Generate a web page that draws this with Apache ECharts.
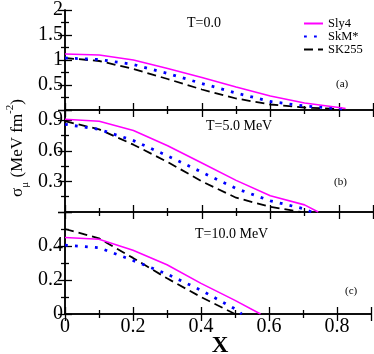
<!DOCTYPE html>
<html><head><meta charset="utf-8">
<script src="https://cdn.jsdelivr.net/npm/echarts@6/dist/echarts.min.js"></script>
<style>html,body{margin:0;padding:0;background:#fff}#c{width:374px;height:354px}</style>
</head><body><div id="c"></div>
<script>
// ---- data (x, sigma) ----
const seriesNames = ['Sly4', 'SkM*', 'SK255'];
const panelLabels = ['T=0.0', 'T=5.0 MeV', 'T=10.0 MeV'];
const panelTags = ['(a)', '(b)', '(c)'];
const xTickLabels = ['0', '0.2', '0.4', '0.6', '0.8'];

const sly4_T0 = [[0,1.12],[0.1,1.10],[0.2,1.00],[0.3,0.83],[0.4,0.65],[0.5,0.46],[0.6,0.28],[0.7,0.14],[0.8,0.05],[0.82,0.03]];
const skm_T0  = [[0,1.04],[0.1,1.01],[0.2,0.91],[0.3,0.73],[0.4,0.53],[0.5,0.34],[0.6,0.17],[0.7,0.08],[0.8,0.03],[0.82,0.02]];
const sk255_T0= [[0,1.04],[0.1,0.98],[0.2,0.82],[0.3,0.62],[0.4,0.41],[0.5,0.23],[0.6,0.11],[0.7,0.05],[0.8,0.02]];

const sly4_T5 = [[0,0.91],[0.1,0.89],[0.2,0.80],[0.3,0.65],[0.4,0.48],[0.5,0.31],[0.6,0.16],[0.7,0.07],[0.74,0.0]];
const skm_T5  = [[0,0.86],[0.1,0.81],[0.2,0.70],[0.3,0.55],[0.4,0.39],[0.5,0.23],[0.6,0.11],[0.7,0.03],[0.72,0.0]];
const sk255_T5= [[0,0.89],[0.1,0.81],[0.2,0.66],[0.3,0.49],[0.4,0.30],[0.5,0.14],[0.6,0.05],[0.69,0.0]];

const sly4_T10 = [[0,0.45],[0.1,0.44],[0.2,0.375],[0.3,0.29],[0.4,0.18],[0.5,0.08],[0.575,0.0]];
const skm_T10  = [[0,0.405],[0.1,0.39],[0.2,0.315],[0.3,0.235],[0.4,0.14],[0.5,0.03],[0.52,0.0]];
const sk255_T10= [[0,0.50],[0.1,0.445],[0.2,0.33],[0.3,0.21],[0.4,0.10],[0.5,0.0]];

const panelData = [[sly4_T0, skm_T0, sk255_T0],[sly4_T5, skm_T5, sk255_T5],[sly4_T10, skm_T10, sk255_T10]];
const yRanges = [[0,2,0.5],[0,1.0,0.3],[0,0.6,0.2]];

// ---- styles ----
const FONT = '"Liberation Serif", "Times New Roman", serif';
const lineStyles = [
  {color:'#ff00ff', width:1.6, type:'solid'},
  {color:'#0000ff', width:2.8, type:[2.8,7.2], cap:'butt'},
  {color:'#000000', width:1.8, type:[9,5]}
];
const grids = [
  {left:65, top:6, width:308, height:104},
  {left:65, top:110, width:308, height:102},
  {left:65, top:212, width:308, height:102}
];
const axLine = {show:true, lineStyle:{color:'#000', width:1.5}};
const xAxes = [], yAxes = [], series = [];
grids.forEach((g, i) => {
  const base = {type:'value', gridIndex:i, min:0, max:0.9, interval:0.2,
    axisLine:axLine, splitLine:{show:false},
    axisTick:{show:true, inside:true, length:7, lineStyle:{color:'#000', width:1.3}},
    minorTick:{show:true, splitNumber:2, length:4, lineStyle:{color:'#000', width:1.3}}};
  xAxes.push(Object.assign({}, base, {position:'bottom',
    axisLabel:{show:i===2, fontFamily:FONT, fontSize:20, color:'#000', margin:3,
      formatter:(v)=>{const k=Math.round(v*5); return xTickLabels[k] || '';}}}));
  xAxes.push(Object.assign({}, base, {position:'top', axisLabel:{show:false}}));
  const [mn, mx, iv] = yRanges[i];
  const ybase = {type:'value', gridIndex:i, min:mn, max:mx, interval:iv,
    axisLine:axLine, splitLine:{show:false},
    axisTick:{show:true, inside:true, length:7, lineStyle:{color:'#000', width:1.3}},
    minorTick:{show:true, splitNumber:2, length:4, lineStyle:{color:'#000', width:1.3}}};
  yAxes.push(Object.assign({}, ybase, {position:'left',
    axisLabel:{show:true, fontFamily:FONT, fontSize:20, color:'#000', margin:2,
      formatter:(v)=>{
        if (i<2 && Math.abs(v)<1e-9) return '';
        if (i===2 && v>0.55) return '';
        return String(Math.round(v*100)/100);
      }}}));
  yAxes.push(Object.assign({}, ybase, {position:'right', axisLabel:{show:false}}));
  panelData[i].forEach((d, s) => {
    series.push({name:seriesNames[s], type:'line', xAxisIndex:2*i, yAxisIndex:2*i,
      data:d, symbol:'none', smooth:false, lineStyle:lineStyles[s], itemStyle:{color:lineStyles[s].color},
      z: 3 - s, animation:false});
  });
});

const graphics = [
  {type:'text', left:187, top:16, style:{text:panelLabels[0], font:'14px '+FONT, fill:'#000'}},
  {type:'text', left:206, top:119, style:{text:panelLabels[1], font:'14px '+FONT, fill:'#000'}},
  {type:'text', left:195, top:227, style:{text:panelLabels[2], font:'14px '+FONT, fill:'#000'}},
  {type:'text', left:336, top:79, style:{text:panelTags[0], font:'11px '+FONT, fill:'#000'}},
  {type:'text', left:334, top:177, style:{text:panelTags[1], font:'11px '+FONT, fill:'#000'}},
  {type:'text', left:345, top:286, style:{text:panelTags[2], font:'11px '+FONT, fill:'#000'}},
  {type:'text', x:220, y:346, style:{text:'X', font:'bold 23px '+FONT, fill:'#000', textAlign:'center', textVerticalAlign:'middle'}},
  {type:'text', x:18, y:148, rotation:Math.PI/2,
    style:{text:'{m|σ}{s|μ}{m| (MeV fm}{p|-2}{m|)}', textAlign:'center', textVerticalAlign:'middle', fill:'#000',
      rich:{
        m:{fontFamily:FONT, fontSize:17, lineHeight:26, verticalAlign:'middle', color:'#000'},
        s:{fontFamily:FONT, fontSize:11, lineHeight:11, verticalAlign:'bottom', color:'#000'},
        p:{fontFamily:FONT, fontSize:11, lineHeight:11, verticalAlign:'top', color:'#000'}
      }}}
];

const chart = echarts.init(document.getElementById('c'), null, {renderer:'canvas'});
chart.setOption({
  animation:false,
  backgroundColor:'#fff',
  grid:grids,
  xAxis:xAxes,
  yAxis:yAxes,
  legend:{data:seriesNames, orient:'vertical', left:303, top:17, padding:0, itemWidth:19, itemHeight:10, itemGap:0,
    itemStyle:{opacity:0},
    textStyle:{fontFamily:FONT, fontSize:12.5, color:'#000', lineHeight:13}},
  series:series,
  graphic:graphics
});
</script></body></html>
